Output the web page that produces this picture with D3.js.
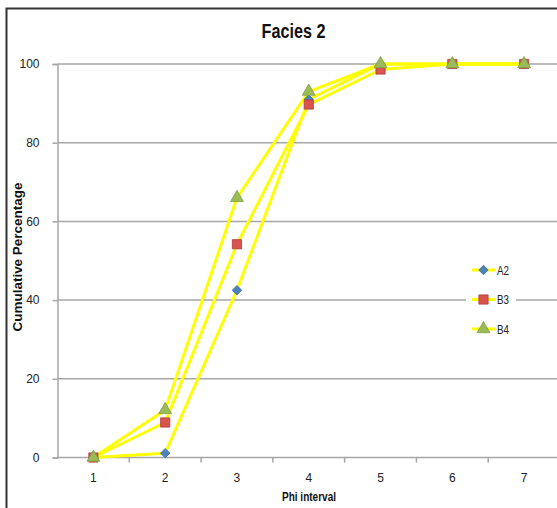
<!DOCTYPE html>
<html>
<head>
<meta charset="utf-8">
<script src="https://cdn.jsdelivr.net/npm/d3@7"></script>
<style>
  html, body { margin: 0; padding: 0; background: #fff; }
  svg { display: block; }
  text { font-family: "Liberation Sans", Arial, sans-serif; }
</style>
</head>
<body>
<svg id="chart" width="557" height="508"></svg>
<script>
// Phi interval categories and cumulative percentages per sample
const categories = ["1", "2", "3", "4", "5", "6", "7"];
const seriesNames = ["A2", "B3", "B4"];
const valuesA2 = [0, 1.1, 42.5, 91, 100, 100, 100];
const valuesB3 = [0, 8.9, 54.2, 89.7, 98.6, 100, 100];
const valuesB4 = [0, 12.1, 66, 93, 100, 100, 100];
const yTicks = [0, 20, 40, 60, 80, 100];

const markerFill = { A2: "#4F81BD", B3: "#D9534F", B4: "#9BBB59" };
const markerStroke = { A2: "#3A6BA8", B3: "#B23B38", B4: "#7E9E45" };

// marker shapes: diamond is a square turned 45 degrees
const markerPath = {
  A2: d3.symbol().type(d3.symbolSquare).size(44)(),
  B3: d3.symbol().type(d3.symbolSquare).size(85)(),
  B4: d3.symbol().type(d3.symbolTriangle).size(72)()
};
const markerRotate = { A2: 45, B3: 0, B4: 0 };

const series = [
  { name: "A2", values: valuesA2 },
  { name: "B3", values: valuesB3 },
  { name: "B4", values: valuesB4 }
];

const svg = d3.select("#chart");

// outer frame
svg.append("rect")
  .attr("x", 6.5).attr("y", 8.5)
  .attr("width", 560).attr("height", 510)
  .attr("fill", "none").attr("stroke", "#333").attr("stroke-width", 2);

const plot = { left: 57.5, right: 560, top: 64, bottom: 457.5 };

const x = d3.scaleBand().domain(categories).range([plot.left, plot.right]);
const y = d3.scaleLinear().domain([0, 100]).range([plot.bottom, plot.top]);
const cx = c => x(c) + x.bandwidth() / 2;

// horizontal gridlines
svg.append("g").selectAll("line").data(yTicks).join("line")
  .attr("x1", plot.left).attr("x2", 557)
  .attr("y1", d => y(d)).attr("y2", d => y(d))
  .attr("stroke", "#a6a6a6").attr("stroke-width", 1.5);

// y axis
const yAxis = svg.append("g").attr("transform", `translate(${plot.left},0)`)
  .call(d3.axisLeft(y).tickValues(yTicks).tickSize(5).tickPadding(13));
yAxis.select(".domain").attr("stroke", "#a6a6a6").attr("stroke-width", 1.5);
yAxis.selectAll(".tick line").attr("stroke", "#a6a6a6").attr("stroke-width", 1.5);
yAxis.selectAll(".tick text").attr("font-size", 12).attr("fill", "#222")
  .style("font-family", "'Liberation Sans', Arial, sans-serif");

// x axis: ticks between categories
const bounds = categories.slice(1).map(c => x(c));
svg.append("g").selectAll("line").data(bounds).join("line")
  .attr("x1", d => d).attr("x2", d => d)
  .attr("y1", plot.bottom).attr("y2", plot.bottom + 5)
  .attr("stroke", "#a6a6a6").attr("stroke-width", 1.5);
svg.append("g").selectAll("text").data(categories).join("text")
  .attr("x", d => cx(d)).attr("y", plot.bottom + 24)
  .attr("text-anchor", "middle").attr("font-size", 12).attr("fill", "#222")
  .text(d => d);

// title and axis titles
svg.append("text").attr("x", 293.5).attr("y", 38)
  .attr("text-anchor", "middle").attr("font-size", 21).attr("font-weight", "bold")
  .attr("textLength", 64).attr("lengthAdjust", "spacingAndGlyphs")
  .attr("fill", "#111").text("Facies 2");
svg.append("text").attr("x", 309).attr("y", 501)
  .attr("text-anchor", "middle").attr("font-size", 12).attr("font-weight", "bold")
  .attr("textLength", 54).attr("lengthAdjust", "spacingAndGlyphs")
  .attr("fill", "#111").text("Phi interval");
svg.append("text").attr("transform", "translate(22,257) rotate(-90)")
  .attr("text-anchor", "middle").attr("font-size", 12).attr("font-weight", "bold")
  .attr("textLength", 149).attr("lengthAdjust", "spacingAndGlyphs")
  .attr("fill", "#111").text("Cumulative Percentage");

// lines and markers
const line = d3.line().x((d, i) => cx(categories[i])).y(d => y(d));
series.forEach(s => {
  svg.append("path").datum(s.values)
    .attr("d", line).attr("fill", "none")
    .attr("stroke", "#FFFF00").attr("stroke-width", 3)
    .attr("stroke-linejoin", "round");
});
series.forEach(s => {
  svg.append("g").selectAll("path").data(s.values).join("path")
    .attr("transform", (d, i) => `translate(${cx(categories[i])},${y(d)}) rotate(${markerRotate[s.name]})`)
    .attr("d", markerPath[s.name])
    .attr("fill", markerFill[s.name]).attr("stroke", markerStroke[s.name]).attr("stroke-width", 0.8);
});

// legend
const legend = svg.append("g");
legend.append("rect").attr("x", 466).attr("y", 258).attr("width", 50).attr("height", 84).attr("fill", "#fff");
seriesNames.forEach((name, i) => {
  const ly = 270 + i * 29.5;
  legend.append("line").attr("x1", 472).attr("x2", 495).attr("y1", ly).attr("y2", ly)
    .attr("stroke", "#FFFF00").attr("stroke-width", 3);
  legend.append("path").attr("transform", `translate(483.5,${ly}) rotate(${markerRotate[name]})`)
    .attr("d", markerPath[name])
    .attr("fill", markerFill[name]).attr("stroke", markerStroke[name]).attr("stroke-width", 0.8);
  legend.append("text").attr("x", 497).attr("y", ly + 4.5)
    .attr("font-size", 12).attr("textLength", 12).attr("lengthAdjust", "spacingAndGlyphs")
    .attr("fill", "#222").text(name);
});
</script>
</body>
</html>
